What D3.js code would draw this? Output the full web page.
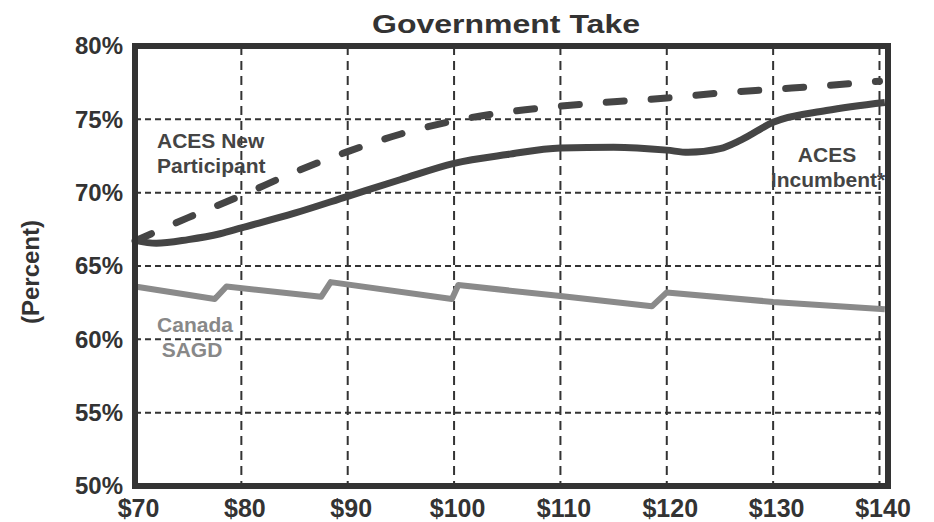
<!DOCTYPE html>
<html><head><meta charset="utf-8">
<script src="https://cdn.jsdelivr.net/npm/d3@7"></script>
<style>body{margin:0;background:#fff}</style>
</head><body>
<script>
const xTicks = [70,80,90,100,110,120,130,140];
const yTicks = [50,55,60,65,70,75,80];
const newParticipantX = [70,75,80,85,90,95,100,105,110,115,120,125,130,135,140];
const newParticipantY = [66.7,68.3,69.8,71.4,72.8,74.0,74.9,75.5,75.9,76.2,76.45,76.8,77.05,77.3,77.6];
const incumbentX = [70,72,75,78,80,85,90,95,100,105,110,115,120,122,125,127,130,135,140.5];
const incumbentY = [66.75,66.55,66.8,67.2,67.6,68.6,69.75,70.9,72.0,72.6,73.05,73.1,72.9,72.75,73.0,73.6,74.8,75.6,76.15];
const canadaX = [70,77.5,78.6,87.5,88.4,99.8,100.4,110,118.6,120,130,140.5];
const canadaY = [63.6,62.75,63.6,62.9,63.9,62.75,63.7,62.95,62.25,63.2,62.55,62.05];

const W=934,H=522;
const svg=d3.select("body").append("svg").attr("width",W).attr("height",H);
const x=d3.scaleLinear().domain([70,140.8]).range([135,888]);
const y=d3.scaleLinear().domain([50,80]).range([486,46]);
const font="Liberation Sans, Arial, sans-serif";

// gridlines
svg.append("g").selectAll("line").data(yTicks.filter(d=>d>50&&d<80)).join("line")
  .attr("x1",x(70)).attr("x2",x(140.8)).attr("y1",d=>y(d)).attr("y2",d=>y(d))
  .attr("stroke","#333").attr("stroke-width",2).attr("stroke-dasharray","6,4");
svg.append("g").selectAll("line").data(xTicks.filter(d=>d>70)).join("line")
  .attr("x1",d=>x(d)).attr("x2",d=>x(d)).attr("y1",y(80)).attr("y2",y(50))
  .attr("stroke","#333").attr("stroke-width",2).attr("stroke-dasharray","9,6");

// axes labels via d3 axes
const xAxis=svg.append("g").attr("transform",`translate(0,${y(50)})`)
  .call(d3.axisBottom(x).tickValues(xTicks).tickFormat(d=>"$"+d).tickSize(0));
xAxis.select(".domain").remove();
xAxis.selectAll("text").attr("font-family",font).attr("font-weight","bold").attr("font-size",25).attr("fill","#333")
  .attr("dx",3).attr("y",31).attr("dy",0);
const yAxis=svg.append("g").attr("transform",`translate(${x(70)},0)`)
  .call(d3.axisLeft(y).tickValues(yTicks).tickFormat(d=>d+"%").tickSize(0).tickPadding(12));
yAxis.select(".domain").remove();
yAxis.selectAll("text").attr("font-family",font).attr("font-weight","bold").attr("font-size",24).attr("fill","#333");

// lines
svg.append("path").datum(canadaX.map((v,i)=>[v,canadaY[i]]))
  .attr("d",d3.line().x(d=>x(d[0])).y(d=>y(d[1])).curve(d3.curveLinear)).attr("fill","none").attr("stroke","#8a8a8a").attr("stroke-width",6).attr("stroke-linejoin","round");
svg.append("path").datum(incumbentX.map((v,i)=>[v,incumbentY[i]]))
  .attr("d",d3.line().x(d=>x(d[0])).y(d=>y(d[1])).curve(d3.curveMonotoneX)).attr("fill","none").attr("stroke","#454545").attr("stroke-width",7);
svg.append("path").datum(newParticipantX.map((v,i)=>[v,newParticipantY[i]]))
  .attr("d",d3.line().x(d=>x(d[0])).y(d=>y(d[1])).curve(d3.curveMonotoneX)).attr("fill","none").attr("stroke","#454545").attr("stroke-width",7)
  .attr("stroke-dasharray","18,27").attr("stroke-linecap","round");

// border
svg.append("rect").attr("x",x(70)).attr("y",y(80)).attr("width",x(140.8)-x(70)).attr("height",y(50)-y(80))
  .attr("fill","none").attr("stroke","#333").attr("stroke-width",6);

// title
svg.append("text").attr("x",506).attr("y",33).attr("text-anchor","middle")
  .attr("font-family",font).attr("font-weight","bold").attr("font-size",26).attr("fill","#333")
  .attr("textLength",268).attr("lengthAdjust","spacingAndGlyphs").text("Government Take");

// y label
svg.append("text").attr("transform","translate(39,272) rotate(-90)").attr("text-anchor","middle")
  .attr("font-family",font).attr("font-weight","bold").attr("font-size",24).attr("fill","#333").text("(Percent)");

// series labels
const lab=(t,xx,yy,anchor,color)=>svg.append("text").attr("x",xx).attr("y",yy).attr("text-anchor",anchor)
  .attr("font-family",font).attr("font-weight","bold").attr("font-size",21).attr("fill",color).text(t);
lab("ACES New",157,148,"start","#444");
lab("Participant",157,173,"start","#444");
lab("ACES",827,162,"middle","#444");
lab("Incumbent*",828,187,"middle","#444");
lab("Canada",195,332,"middle","#888");
lab("SAGD",192,357,"middle","#888");
</script>
</body></html>
